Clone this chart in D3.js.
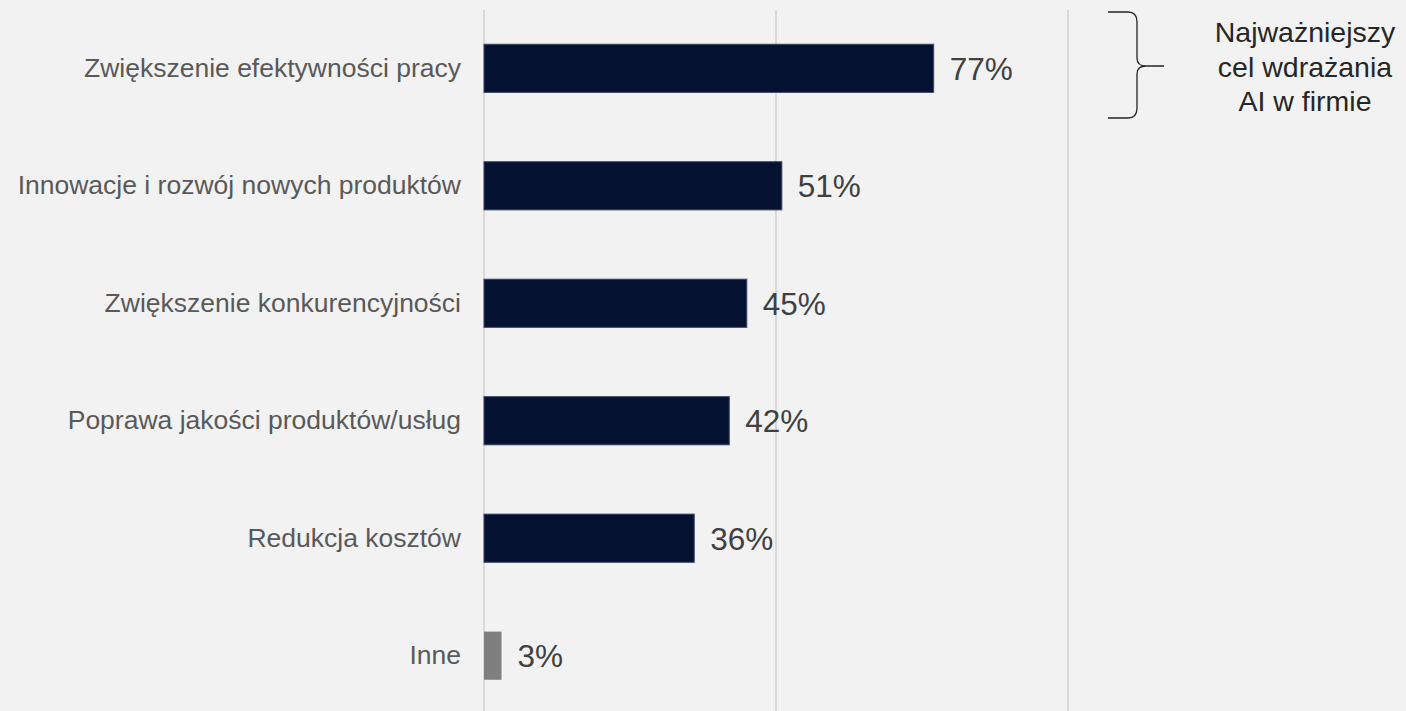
<!DOCTYPE html>
<html>
<head>
<meta charset="utf-8">
<script src="https://cdn.jsdelivr.net/npm/d3@7"></script>
<style>
  html, body { margin: 0; padding: 0; background: #f2f2f2; }
  svg { display: block; }
</style>
</head>
<body>
<script>
const w = 1406;
const h = 711;

const categories = [
  "Zwiększenie efektywności pracy",
  "Innowacje i rozwój nowych produktów",
  "Zwiększenie konkurencyjności",
  "Poprawa jakości produktów/usług",
  "Redukcja kosztów",
  "Inne"
];
const values = [77, 51, 45, 42, 36, 3];
const gridTicks = [0, 50, 100];
const noteLines = ["Najważniejszy", "cel wdrażania", "AI w firmie"];

const svg = d3.select("body").append("svg")
  .attr("width", w)
  .attr("height", h)
  .style("font-family", "Liberation Sans, Arial, sans-serif");

svg.append("rect").attr("width", w).attr("height", h).attr("fill", "#f2f2f2");

const x = d3.scaleLinear().domain([0, 100]).range([484, 1068]);
const y = d3.scaleBand().domain(categories).range([9, 715]).paddingInner(0.59).paddingOuter(0.3);

// gridlines
svg.selectAll("line.grid")
  .data(gridTicks)
  .enter()
  .append("line")
  .attr("class", "grid")
  .attr("x1", (d) => x(d))
  .attr("x2", (d) => x(d))
  .attr("y1", 10)
  .attr("y2", h)
  .attr("stroke", "#d9d9d9")
  .attr("stroke-width", 2);

// bars
svg.selectAll("rect.bar")
  .data(values)
  .enter()
  .append("rect")
  .attr("class", "bar")
  .attr("x", x(0))
  .attr("y", (d, i) => y(categories[i]))
  .attr("width", (d) => x(d) - x(0))
  .attr("height", y.bandwidth())
  .attr("fill", (d, i) => (categories[i] === "Inne" ? "#7f7f7f" : "#041130"))
  .attr("stroke", (d, i) => (categories[i] === "Inne" ? "none" : "#3a4866"))
  .attr("stroke-width", 1);

// value labels
svg.selectAll("text.val")
  .data(values)
  .enter()
  .append("text")
  .attr("class", "val")
  .attr("x", (d) => x(d) + 16)
  .attr("y", (d, i) => y(categories[i]) + y.bandwidth() / 2)
  .attr("dy", "0.36em")
  .attr("font-size", 31.5)
  .attr("fill", "#404040")
  .text((d) => d + "%");

// category labels
const yAxis = d3.axisLeft(y).tickSize(0).tickPadding(0);
const gy = svg.append("g")
  .attr("transform", "translate(461, 0)")
  .call(yAxis);
gy.select(".domain").remove();
gy.selectAll("text")
  .attr("font-size", 26.5)
  .attr("font-family", "Liberation Sans, Arial, sans-serif")
  .attr("fill", "#595959");

// brace
svg.append("path")
  .attr("d", "M1108,12 L1128,12 Q1137,12 1137,22 L1137,58 Q1137,66 1146,66 L1164,66 " +
             "M1146,66 Q1137,66 1137,74 L1137,108 Q1137,118 1128,118 L1108,118")
  .attr("fill", "none")
  .attr("stroke", "#262626")
  .attr("stroke-width", 1.3);

// annotation
svg.append("g")
  .selectAll("text")
  .data(noteLines)
  .enter()
  .append("text")
  .attr("x", 1305)
  .attr("y", (d, i) => 42 + i * 34.5)
  .attr("text-anchor", "middle")
  .attr("font-size", 28.5)
  .attr("fill", "#262626")
  .text((d) => d);
</script>
</body>
</html>
